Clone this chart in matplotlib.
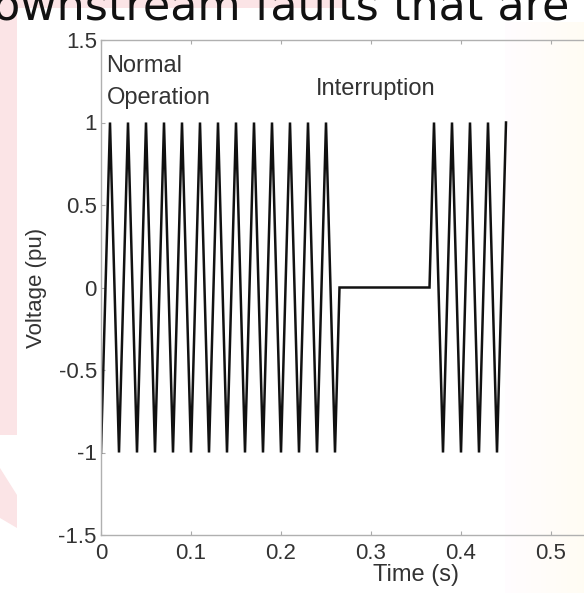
import matplotlib
matplotlib.use("Agg")
import matplotlib.pyplot as plt
import numpy as np
from matplotlib.patches import Rectangle, Polygon

# Voltage waveform extrema (time in s, voltage in pu)
normal_times = [0.00, 0.01, 0.02, 0.03, 0.04, 0.05, 0.06, 0.07, 0.08, 0.09,
                0.10, 0.11, 0.12, 0.13, 0.14, 0.15, 0.16, 0.17, 0.18, 0.19,
                0.20, 0.21, 0.22, 0.23, 0.24, 0.25, 0.26]
normal_volts = [-1, 1, -1, 1, -1, 1, -1, 1, -1, 1,
                -1, 1, -1, 1, -1, 1, -1, 1, -1, 1,
                -1, 1, -1, 1, -1, 1, -1]
interrupt_times = [0.265, 0.365]
interrupt_volts = [0.0, 0.0]
restore_times = [0.37, 0.38, 0.39, 0.40, 0.41, 0.42, 0.43, 0.44, 0.45]
restore_volts = [1, -1, 1, -1, 1, -1, 1, -1, 1]

x_ticks = [0, 0.1, 0.2, 0.3, 0.4, 0.5]
x_tick_labels = ["0", "0.1", "0.2", "0.3", "0.4", "0.5"]
y_ticks = [-1.5, -1, -0.5, 0, 0.5, 1, 1.5]
y_tick_labels = ["-1.5", "-1", "-0.5", "0", "0.5", "1", "1.5"]

W, H = 584, 593
plt.rcParams["font.family"] = ["Liberation Sans", "DejaVu Sans"]
fig = plt.figure(figsize=(W / 100, H / 100), dpi=100, facecolor="white")

# slide background around the chart
bg = fig.add_axes([0, 0, 1, 1], zorder=-10)
bg.set_xlim(0, W)
bg.set_ylim(H, 0)
bg.axis("off")
pink = "#fbe4e6"
bg.add_patch(Rectangle((0, 0), 343, 8, color=pink, lw=0))
bg.add_patch(Rectangle((0, 0), 17, 435, color=pink, lw=0))
bg.add_patch(Polygon([(0, 468), (17, 495), (17, 528), (0, 518)], color=pink, lw=0))
grad = np.linspace(0, 1, 80)[None, :]
bg.imshow(np.dstack([np.ones_like(grad), np.full_like(grad, 0.985),
                     0.94 + 0.06 * (1 - grad)]),
          extent=[505, 584, 593, 22], aspect="auto", alpha=0.7, zorder=-1)
bg.text(-7, 19, "ownstream faults that are", fontsize=32, color="#111111",
        family=["DejaVu Sans"], va="baseline", ha="left")

ax = fig.add_axes([101 / W, 58 / H, 630 / W, 495 / H])
ax.set_facecolor("none")

t = normal_times + interrupt_times + restore_times
v = normal_volts + interrupt_volts + restore_volts
ax.plot(t, v, color="#111111", lw=1.8, solid_joinstyle="miter")

ax.set_xlim(0, 0.7)
ax.set_ylim(-1.5, 1.5)
ax.set_xticks(x_ticks)
ax.set_xticklabels(x_tick_labels)
ax.set_yticks(y_ticks)
ax.set_yticklabels(y_tick_labels)
ax.tick_params(direction="in", length=3, color="#aaaaaa", labelsize=16,
               labelcolor="#333333", top=True, right=True)
ax.tick_params(axis="x", pad=6)
ax.tick_params(axis="y", pad=3)
for s in ax.spines.values():
    s.set_color("#b0b0b0")
    s.set_linewidth(1.0)

ax.set_xlabel("Time (s)", fontsize=17, color="#333333", labelpad=0)
ax.set_ylabel("Voltage (pu)", fontsize=16, color="#333333", labelpad=8)

ax.text(0.006, 1.34, "Normal", fontsize=17, color="#333333", va="center")
ax.text(0.006, 1.15, "Operation", fontsize=17, color="#333333", va="center")
ax.text(0.239, 1.20, "Interruption", fontsize=17, color="#333333", va="center")

fig.savefig("out.png", dpi=100, facecolor="white")
